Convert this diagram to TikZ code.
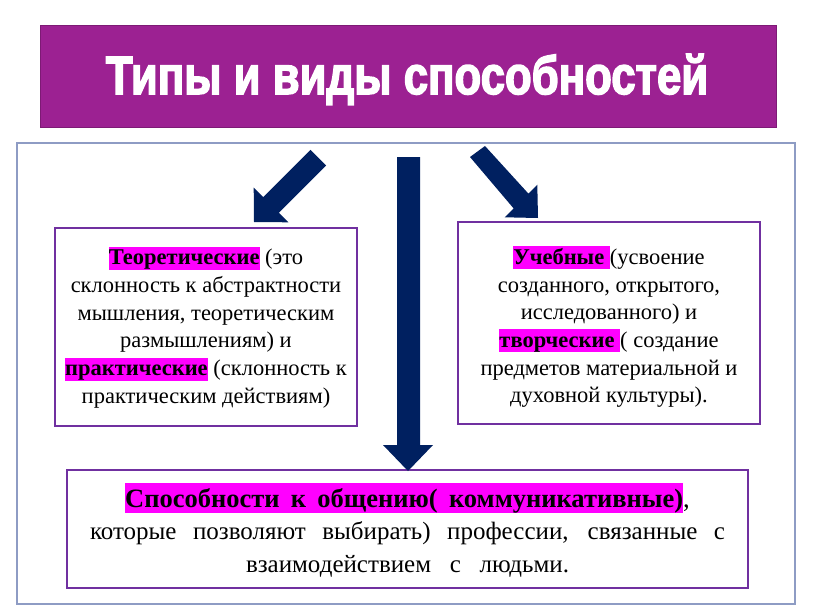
\documentclass[tikz,border=0pt]{standalone}
\usepackage{fontspec}
\setmainfont{Liberation Serif}
\newfontfamily\titlefont[FakeBold=3]{Liberation Sans}
\definecolor{titlepurple}{HTML}{9C2192}
\definecolor{navyarrow}{HTML}{002060}
\definecolor{boxpurple}{HTML}{7030A0}
\definecolor{framegrey}{HTML}{8E9CC4}
\definecolor{hlmag}{HTML}{FF00FF}
\newcommand{\hlt}[1]{{\setlength{\fboxsep}{0pt}\colorbox{hlmag}{\rule[-5pt]{0pt}{23pt}\textbf{#1}}}}
\newcommand{\hltb}[1]{{\setlength{\fboxsep}{0pt}\colorbox{hlmag}{\rule[-5pt]{0pt}{29pt}\textbf{#1}}}}
\newcommand{\sqline}[2]{\makebox[#1][s]{#2}}
\tikzset{
  infobox/.style={draw=boxpurple, line width=1.4pt, fill=white, inner sep=0pt, align=center},
  bodytext/.style={font=\fontsize{22.5}{27.7}\selectfont, align=center, inner sep=0pt},
  blockarrow/.style={fill=navyarrow}
}
\begin{document}
\begin{tikzpicture}[x=1pt,y=-1pt]
\useasboundingbox (0,0) rectangle (816,613);
\fill[white] (0,0) rectangle (816,613);
% outer frame
\node[draw=framegrey, line width=1.5pt, minimum width=778pt, minimum height=461pt, inner sep=0pt, anchor=north west] (frame) at (16,142) {};
% title
\node[fill=titlepurple, draw=titlepurple!80!black, line width=0.6pt, minimum width=736pt, minimum height=102pt, inner sep=0pt, anchor=north west] (title) at (40,25) {};
\node[anchor=base, text=white, inner sep=0pt] (titletext) at (407,94) {\resizebox{602pt}{40pt}{\titlefont\bfseries Типы и виды способностей}};
% boxes
\node[infobox, minimum width=302pt, minimum height=198pt] (theory) at (206,327) {};
\node[bodytext] (theorytext) at (206,327.5)
 {\hlt{Теоретические} (это\\склонность к абстрактности\\мышления, теоретическим\\размышлениям) и\\\hlt{практические} (склонность к\\практическим действиям)};
\node[infobox, minimum width=302pt, minimum height=202pt] (study) at (609,323) {};
\node[bodytext] (studytext) at (609,327)
 {\hlt{Учебные }(усвоение\\созданного, открытого,\\исследованного) и\\\hlt{творческие }( создание\\предметов материальной и\\духовной культуры).};
\node[infobox, minimum width=681pt, minimum height=118pt] (comm) at (407.5,529) {};
\node[align=center, inner sep=0pt, font=\fontsize{25}{32.5}\selectfont] (commtext) at (407.5,530)
 {{\fontsize{26.5}{32.5}\selectfont\hltb{\makebox[558pt][s]{Способности к общению( коммуникативные)}},}\\
  \sqline{635pt}{которые позволяют выбирать) профессии, связанные с}\\
  \sqline{323pt}{взаимодействием с людьми.}};
% arrows
\fill[blockarrow] (397,157) -- (420,157) -- (420,445) -- (433,445) -- (408,471) -- (383,445) -- (397,445) -- cycle;
\fill[blockarrow] (310.5,149.9) -- (326.1,165.5) -- (278.8,212.8) -- (288.3,222.3) -- (254,222) -- (253.7,187.7) -- (263.2,197.2) -- cycle;
\fill[blockarrow] (485,146) -- (528.4,193.6) -- (537.3,184.7) -- (538,218) -- (504.7,217.3) -- (513.6,208.4) -- (470,157) -- cycle;
\end{tikzpicture}
\end{document}
